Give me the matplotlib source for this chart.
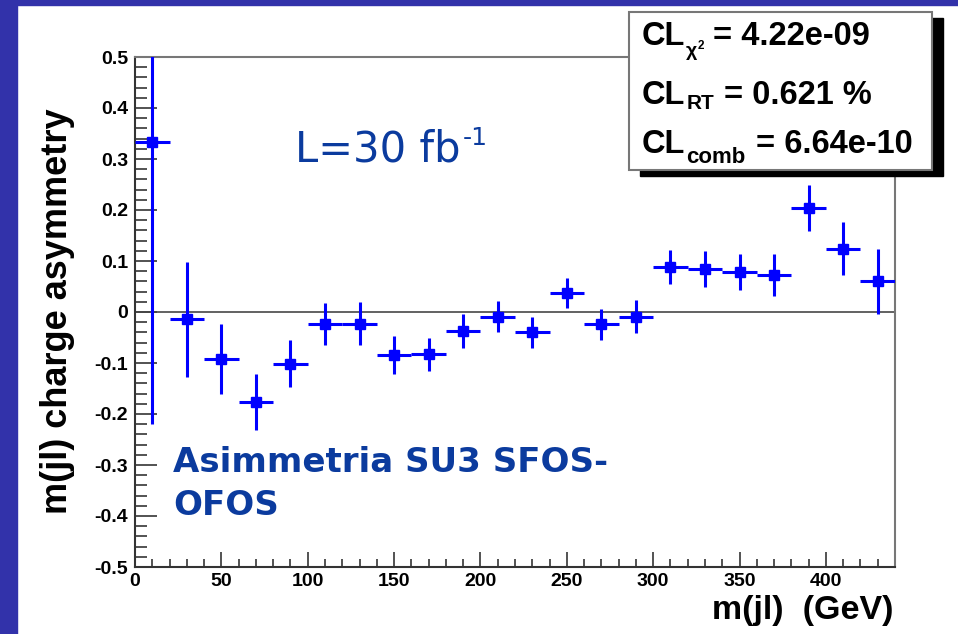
import matplotlib
matplotlib.use("Agg")
import matplotlib.pyplot as plt
import matplotlib.transforms as mtransforms
from matplotlib.patches import Rectangle
from matplotlib.ticker import MultipleLocator, FixedLocator, FixedFormatter

# ---------------- data ----------------
bin_centers = [10, 30, 50, 70, 90, 110, 130, 150, 170, 190, 210,
               230, 250, 270, 290, 310, 330, 350, 370, 390, 410, 430]
bin_half_width = 10
asymmetry = [0.333, -0.014, -0.092, -0.177, -0.101, -0.024, -0.023, -0.085,
             -0.083, -0.037, -0.009, -0.040, 0.037, -0.024, -0.009, 0.088,
             0.084, 0.079, 0.072, 0.204, 0.124, 0.060]
asym_err = [0.553, 0.113, 0.068, 0.055, 0.047, 0.041, 0.042, 0.037, 0.033,
            0.033, 0.031, 0.030, 0.029, 0.030, 0.032, 0.034, 0.035, 0.035,
            0.041, 0.046, 0.052, 0.063]
y_ticks = [-0.5, -0.4, -0.3, -0.2, -0.1, 0, 0.1, 0.2, 0.3, 0.4, 0.5]
y_tick_labels = ["-0.5", "-0.4", "-0.3", "-0.2", "-0.1", "0",
                 "0.1", "0.2", "0.3", "0.4", "0.5"]
x_ticks = [0, 50, 100, 150, 200, 250, 300, 350, 400]
x_tick_labels = ["0", "50", "100", "150", "200", "250", "300", "350", "400"]
stat_lines = [("CL", "\u03c7", "2", "= 4.22e-09"),
              ("CL", "RT", None, "= 0.621 %"),
              ("CL", "comb", None, "= 6.64e-10")]
lumi_text = ("L=30 fb", "-1")
note_lines = ["Asimmetria SU3 SFOS-", "OFOS"]
x_label = "m(jl)  (GeV)"
y_label = "m(jl) charge asymmetry"

# ---------------- figure ----------------
W, H = 958, 634
fig = plt.figure(figsize=(W / 100, H / 100), dpi=100, facecolor="white")
ID = mtransforms.IdentityTransform()


def P(x, y_top):
    """pixel coords from top-left -> display coords"""
    return x, H - y_top


slide_blue = "#3232aa"
fig.patches.append(Rectangle((0, 0), 17, H, transform=ID, color=slide_blue, zorder=0))
fig.patches.append(Rectangle((0, H - 5), W, 5, transform=ID, color=slide_blue, zorder=0))

ax_l, ax_r, ax_t, ax_b = 135, 895, 57, 567
ax = fig.add_axes([ax_l / W, (H - ax_b) / H, (ax_r - ax_l) / W, (ax_b - ax_t) / H])
ax.set_xlim(0, 440)
ax.set_ylim(-0.5, 0.5)

ax.axhline(0, color="#555555", lw=1.3, zorder=1)
ax.errorbar(bin_centers, asymmetry, yerr=asym_err, xerr=bin_half_width,
            fmt="s", color="#0000ff", ms=6.5, elinewidth=2.2, capsize=0, zorder=3)

for side in ["left", "bottom"]:
    ax.spines[side].set_color("#333333")
    ax.spines[side].set_linewidth(1.5)
for side in ["top", "right"]:
    ax.spines[side].set_color("#777777")
    ax.spines[side].set_linewidth(1.5)

ax.yaxis.set_major_locator(FixedLocator(y_ticks))
ax.yaxis.set_major_formatter(FixedFormatter(y_tick_labels))
ax.yaxis.set_minor_locator(MultipleLocator(0.02))
ax.xaxis.set_major_locator(FixedLocator(x_ticks))
ax.xaxis.set_major_formatter(FixedFormatter(x_tick_labels))
ax.xaxis.set_minor_locator(MultipleLocator(10))

ax.tick_params(axis="y", which="major", direction="in", length=16, width=1.3,
               color="#444444", pad=5)
ax.tick_params(axis="y", which="minor", direction="in", length=8.5, width=1.3,
               color="#444444")
ax.tick_params(axis="x", which="major", direction="in", length=11, width=1.3,
               color="#444444", pad=4)
ax.tick_params(axis="x", which="minor", direction="in", length=5.5, width=1.3,
               color="#444444")
ax.tick_params(top=False, right=False)
for lab in ax.get_xticklabels() + ax.get_yticklabels():
    lab.set_fontfamily("Liberation Sans")
    lab.set_fontweight("bold")
    lab.set_fontsize(14)

# axis titles
fig.text(*P(58, 311), y_label, transform=ID, rotation=90, ha="center", va="center",
         family="Liberation Sans", weight="bold", fontsize=26)
fig.text(*P(894, 610), x_label, transform=ID, ha="right", va="center",
         family="Liberation Sans", weight="bold", fontsize=24.5)

renderer = fig.canvas.get_renderer()


def chain(x, y_top, pieces, **kw):
    """pieces: (text, fontsize, dy_px_down, gap_before)"""
    cx = x
    for s, size, dy, gap in pieces:
        cx += gap
        t = fig.text(*P(cx, y_top + dy), s, transform=ID, ha="left", va="baseline",
                     fontsize=size, **kw)
        cx += t.get_window_extent(renderer).width
    return cx


# luminosity
lumi_blue = "#0b3b9e"
chain(295, 162, [(lumi_text[0], 30, 0, 0), (lumi_text[1], 18, -17, 2)],
      family="DejaVu Sans", color=lumi_blue)

# note text
note_kw = dict(family="DejaVu Sans", weight="bold", color=lumi_blue, fontsize=24.5,
               ha="left", va="baseline", transform=ID)
fig.text(*P(173, 472), note_lines[0], **note_kw)
fig.text(*P(173, 515), note_lines[1], **note_kw)

# stats box (shadow + box)
box_l, box_t, box_r, box_b = 629, 12, 932, 170
sh = 8
fig.patches.append(Rectangle(P(box_l + sh + 3, box_b + sh - 2), box_r - box_l, box_b - box_t,
                             transform=ID, facecolor="black", edgecolor="black", zorder=5))
fig.patches.append(Rectangle(P(box_l, box_b), box_r - box_l, box_b - box_t,
                             transform=ID, facecolor="white", edgecolor="#777777",
                             lw=1.5, zorder=6))
stat_kw = dict(family="Liberation Sans", weight="bold", color="black", zorder=7)
baselines = [45, 104, 153]
main_size = 23.5
for (cl, sub, sup, rest), yb in zip(stat_lines, baselines):
    pieces = [(cl, main_size, 0, 0)]
    if sup is not None:
        pieces.append((sub, 14, 11, 1))
        pieces.append((sup, 8.5, 4, 0))
        pieces.append((rest, main_size, 0, 9))
    elif sub == "RT":
        pieces.append((sub, 15, 5, 1))
        pieces.append((rest, main_size, 0, 10))
    else:
        pieces.append((sub, 16, 10, 1))
        pieces.append((rest, main_size, 0, 10))
    chain(642, yb, pieces, **stat_kw)

fig.savefig("out.png", dpi=100, facecolor="white")
